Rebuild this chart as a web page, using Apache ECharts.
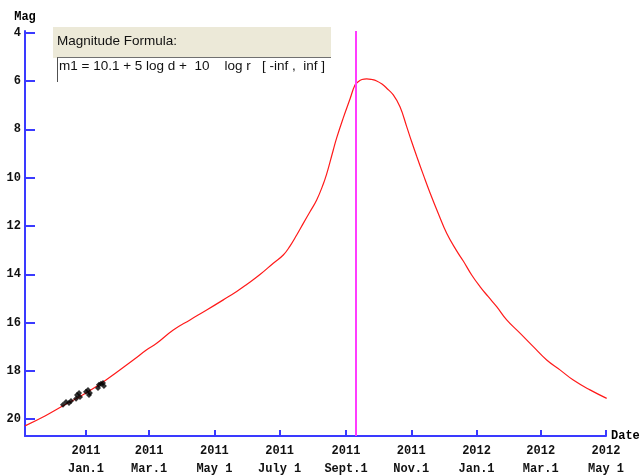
<!DOCTYPE html>
<html>
<head>
<meta charset="utf-8">
<script src="https://cdn.jsdelivr.net/npm/echarts@6/dist/echarts.min.js"></script>
<style>
html,body{margin:0;padding:0;background:#fff;}
#chart{width:642px;height:475px;}
</style>
</head>
<body>
<div id="chart"></div>
<script>
// Days counted from 2011 Jan 1
var curveDays = [-57.01,-38.32,-21.50,0,18.69,44.21,56.73,66.07,81.59,97.20,112.80,128.32,140.84,150.19,162.62,175.05,184.39,190.65,196.92,203.08,209.35,215.61,221.78,224.95,228.04,231.12,234.30,240.47,246.73,251.40,254.49,257.94,262.34,267.29,271.68,276.64,281.03,287.20,293.46,299.72,304.39,309.07,315.23,321.50,329.25,337.10,346.45,352.62,360.47,368.22,375.98,383.83,393.18,405.61,418.04,430.56,442.99,455.42,471.03,486.64];
var curveMags = [20.28,19.87,19.45,18.92,18.38,17.55,17.13,16.86,16.31,15.89,15.48,15.06,14.71,14.42,14.01,13.54,13.20,12.83,12.37,11.89,11.41,10.92,10.26,9.84,9.35,8.85,8.35,7.52,6.74,6.16,6.02,5.93,5.90,5.93,5.99,6.12,6.29,6.57,7.06,7.88,8.51,9.11,9.87,10.62,11.48,12.30,13.03,13.45,14.03,14.51,14.93,15.34,15.89,16.44,17.00,17.55,17.96,18.38,18.79,19.14];

var obsDays = [-21.5,-18.7,-15.9,-14.0,-9.3,-8.4,-6.5,-5.6,0,1.9,2.8,3.7,11.2,12.1,14.0,15.9,16.8];
var obsMags = [19.41,19.29,19.33,19.25,19.16,19.00,18.92,19.08,18.87,18.79,19.00,18.92,18.71,18.58,18.54,18.50,18.63];

var perihelionDay = 252.2;

var tickDays = [0,59,120,181,243,304,365,425,486];
var tickYears = ['2011','2011','2011','2011','2011','2011','2012','2012','2012'];
var tickDates = ['Jan.1','Mar.1','May 1','July 1','Sept.1','Nov.1','Jan.1','Mar.1','May 1'];
var magTicks = [4,6,8,10,12,14,16,18,20];

var formulaTitle = 'Magnitude Formula:';
var formulaText = 'm1 = 10.1 + 5 log d +  10    log r   [ -inf ,  inf ]';

var axisBlue = '#3a3aff';
var mono = '"Liberation Mono", "DejaVu Sans Mono", monospace';

var chart = echarts.init(document.getElementById('chart'), null, {renderer:'canvas'});

function zip(a,b){ var r=[]; for(var i=0;i<a.length;i++) r.push([a[i],b[i]]); return r; }

chart.setOption({
  animation:false,
  backgroundColor:'#ffffff',
  grid:{left:25,right:36,top:31,bottom:39,containLabel:false,outerBoundsMode:'none'},
  xAxis:{
    type:'value', min:-57, max:486,
    name:'Date', nameLocation:'end', nameGap:5,
    nameTextStyle:{fontFamily:mono,fontSize:12,fontWeight:'bold',color:'#000',align:'left',verticalAlign:'middle'},
    axisLine:{show:true,onZero:false,lineStyle:{color:axisBlue,width:2}},
    axisTick:{show:true,inside:true,length:6,lineStyle:{color:axisBlue,width:2},customValues:tickDays},
    axisLabel:{
      customValues:tickDays, margin:6, fontFamily:mono, fontSize:12, fontWeight:'bold', color:'#111', lineHeight:18,
      formatter:function(v){ var i=tickDays.indexOf(v); return i<0?'':tickYears[i]+'\n'+tickDates[i]; }
    },
    splitLine:{show:false}
  },
  yAxis:{
    type:'value', inverse:true, min:3.92, max:20.70,
    name:'Mag', nameLocation:'start', nameGap:14,
    nameTextStyle:{fontFamily:mono,fontSize:12,fontWeight:'bold',color:'#000',align:'center',verticalAlign:'middle'},
    axisLine:{show:true,onZero:false,lineStyle:{color:axisBlue,width:2}},
    axisTick:{show:true,inside:true,length:10,lineStyle:{color:axisBlue,width:2},customValues:magTicks},
    axisLabel:{
      customValues:magTicks, margin:4, fontFamily:mono, fontSize:12, fontWeight:'bold', color:'#111',
      formatter:function(v){ var s=String(v); return s.length<2?' '+s:s; }
    },
    splitLine:{show:false}
  },
  series:[
    {
      type:'line', data:zip(curveDays,curveMags), showSymbol:false, smooth:0.45,
      lineStyle:{color:'#ff1a1a',width:1.2}, silent:true, z:3,
      markLine:{
        symbol:'none', silent:true, label:{show:false},
        lineStyle:{color:'#ff3cff',width:2,type:'solid'},
        data:[{xAxis:perihelionDay}]
      }
    },
    {
      type:'scatter', data:zip(obsDays,obsMags), symbol:'diamond', symbolSize:6,
      itemStyle:{color:'#000'}, silent:true, z:4
    }
  ],
  graphic:[
    {type:'rect', shape:{x:53,y:27,width:278,height:31}, style:{fill:'#ece9d8'}, z:10},
    {type:'rect', shape:{x:57,y:57.5,width:274,height:24.5}, style:{fill:'#ffffff'}, z:10},
    {type:'line', shape:{x1:57,y1:57.5,x2:331,y2:57.5}, style:{stroke:'#707070',lineWidth:1}, z:11},
    {type:'line', shape:{x1:57.5,y1:57.5,x2:57.5,y2:82}, style:{stroke:'#505050',lineWidth:1}, z:11},
    {type:'text', x:57, y:41, style:{text:formulaTitle, font:'13.5px "Liberation Sans", Arial, sans-serif', fill:'#111', textVerticalAlign:'middle'}, z:12},
    {type:'text', x:59, y:66.5, style:{text:formulaText, font:'13.5px "Liberation Sans", Arial, sans-serif', fill:'#111', textVerticalAlign:'middle'}, z:12}
  ]
});
</script>
</body>
</html>
